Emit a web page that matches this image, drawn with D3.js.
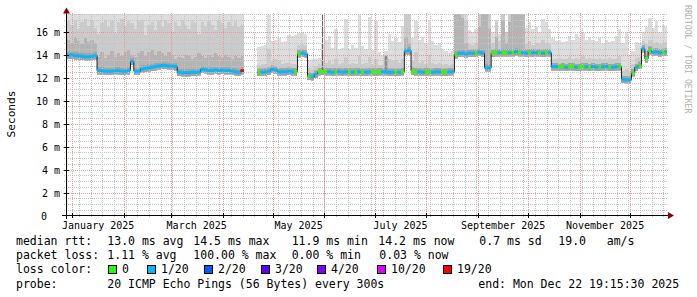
<!DOCTYPE html>
<html>
<head>
<meta charset="utf-8">
<script src="https://cdn.jsdelivr.net/npm/d3@7/dist/d3.min.js"></script>
<style>
  html, body { margin: 0; padding: 0; background: #ffffff; overflow: hidden; }
  svg { display: block; }
  text { font-family: "DejaVu Sans Mono", "Liberation Mono", monospace; white-space: pre; fill: #000; }
</style>
</head>
<body>
<svg id="chart" width="697" height="297"></svg>
<script>
// ---------------- DATA ----------------
const startDate = "2024-12-28T20:00:00Z";
const endDate = "2025-12-22T19:15:00Z";
const binDays = 2;

// median rtt per 2-day bin (ms)
const median = [
  13.95,13.95,13.9,13.9,13.85,13.8,13.8,13.85,13.9,12.6,
  12.58,12.55,12.55,12.55,12.58,12.58,12.55,12.55,12.6,13.4,
  12.55,12.55,12.75,12.8,12.85,12.9,12.95,13.0,13.05,13.05,
  13.0,13.0,12.95,12.45,12.42,12.42,12.42,12.45,12.45,12.48,
  12.7,12.65,12.6,12.6,12.65,12.6,12.62,12.6,12.6,12.55,
  12.5,12.45,12.6,null,null,null,null,12.45,12.45,12.5,
  12.55,12.7,12.65,12.5,12.5,12.5,12.55,12.5,12.5,14.05,
  14.1,14.05,12.1,12.05,12.3,12.5,12.55,12.5,12.5,12.45,
  12.5,12.5,12.45,12.5,12.5,12.45,12.5,12.5,12.45,12.45,
  12.5,12.5,12.45,12.5,12.5,12.5,12.45,12.45,12.45,12.45,
  12.5,14.3,14.35,12.55,12.5,12.5,12.45,12.5,12.5,12.45,
  12.5,12.5,12.45,12.45,12.5,12.5,14.0,14.1,14.1,14.05,
  14.1,14.1,14.1,14.2,14.1,12.85,12.85,14.1,14.15,14.15,
  14.15,14.15,14.15,14.15,14.25,14.15,14.15,14.1,14.15,14.15,
  14.15,14.15,14.1,14.15,14.15,12.95,12.95,12.9,12.95,12.9,
  12.93,12.95,12.9,12.9,12.95,12.93,12.9,12.95,12.9,12.9,
  12.93,12.95,12.9,12.9,12.93,12.95,11.85,11.8,11.8,12.4,
  12.9,13.05,14.5,13.65,14.35,14.2,14.25,14.15,14.2,14.25
];

// lost pings (of 20) per bin
const loss = [
  1,1,1,1,1,1,1,1,1,1,
  1,1,1,1,1,1,1,1,1,1,
  1,1,1,1,1,1,1,1,1,1,
  1,1,1,1,1,1,1,1,1,1,
  1,1,1,1,1,1,1,1,1,1,
  1,1,19,null,null,null,null,0,1,1,
  1,1,1,1,1,1,1,1,0,0,
  1,1,0,1,1,0,0,0,1,1,
  0,1,1,1,0,1,0,1,0,1,
  1,0,0,0,1,1,1,1,0,1,
  0,1,1,0,0,1,1,0,0,1,
  1,1,0,0,1,1,0,1,1,1,
  1,1,0,1,1,1,1,0,0,1,
  0,0,1,0,1,0,1,1,0,1,
  1,0,1,0,1,1,1,0,0,1,
  0,0,1,0,0,1,0,1,1,0,
  1,1,0,1,1,0,1,1,1,0,
  1,0,1,0,0,1,1,1,0,1
];

// smoke: outer (max) ping per bin (ms)
const smokeTop = [
  18,18,18,18,18,18,18,18,18,18,
  18,18,18,18,18,18,18,18,18,18,
  18,18,18,18,18,18,18,18,18,18,
  18,18,18,18,18,18,18,18,18,18,
  18,18,18,18,18,18,18,18,18,18,
  18,18,18,null,null,null,null,14.65,14.7,14.8,
  17.4,15.2,15.3,15.4,15.1,15.2,15.7,15.6,15.7,15.9,
  16.0,15.8,13.5,13.6,13.6,13.7,14.9,15.3,15.6,14.6,
  16.2,14.5,14.6,17.1,14.5,14.8,14.6,17.4,14.7,14.5,
  17.3,14.4,16.9,14.2,14.0,14.3,15.8,15.2,15.4,15.1,
  16.5,18,17.5,15.4,16.9,15.3,15.5,15.0,17.0,15.2,
  14.8,15.0,14.5,14.3,14.1,14.3,18,18,18,18,
  16.1,16.0,16.2,18,18,18,18,16.0,17.0,15.8,
  16.2,15.9,18,18,18,18,18,16.3,16.8,16.2,
  16.4,16.0,17.1,16.8,16.2,15.4,15.2,15.3,15.1,15.2,
  15.6,15.3,15.8,15.4,15.9,15.3,15.5,15.3,15.2,15.4,
  15.0,15.3,15.1,15.2,15.6,16.2,15.0,16.0,14.0,14.3,
  15.1,15.0,16.0,16.4,17.2,16.3,16.9,16.0,16.6,16.4
];

// smoke: middle layer top per bin (ms)
const smokeMid = [
  16.9,16.6,17.0,16.2,16.8,17.1,16.5,16.9,16.3,15.8,
  16.7,17.0,16.4,16.9,15.9,16.8,17.1,16.5,16.9,16.7,
  16.2,16.9,17.0,15.7,16.6,16.8,16.1,16.9,16.4,17.0,
  16.7,15.9,16.8,16.5,17.0,16.6,16.2,16.9,16.7,15.8,
  16.8,16.4,16.9,16.6,16.1,16.9,16.7,16.3,16.8,16.5,
  16.9,16.4,16.6,null,null,null,null,13.1,13.15,13.2,
  14.5,13.4,13.6,13.5,13.2,13.3,13.3,13.2,13.2,14.8,
  14.9,14.8,12.8,12.75,13.0,13.2,13.5,13.3,13.4,13.2,
  13.6,13.2,13.3,13.8,13.2,13.3,13.2,13.9,13.2,13.3,
  13.8,13.2,13.6,13.1,13.1,14.0,13.6,13.4,13.5,13.3,
  13.6,18,17.5,13.4,14.2,13.3,13.4,13.2,14.0,13.3,
  13.2,13.3,13.1,13.2,13.1,13.2,18,18,18,17,
  14.9,14.8,15.0,18,18,18,18,15.0,16.8,15.2,
  17.5,16.0,18,18,18,18,18,14.9,15.2,14.8,
  15.0,14.9,15.3,15.0,14.9,13.6,13.6,13.7,13.6,13.6,
  13.8,13.6,13.7,13.6,13.9,13.6,13.7,13.6,13.6,13.7,
  13.6,13.6,13.7,13.6,13.6,13.9,12.6,12.7,12.6,13.2,
  13.7,13.8,15.2,14.9,15.3,15.0,15.1,14.9,15.0,15.1
];

// smoke: inner (dense) layer top per bin (ms)
const smokeInner = [
  15.3,15.0,15.5,15.2,14.9,15.4,15.1,15.3,15.0,13.8,
  14.2,13.7,14.0,14.3,13.8,14.1,13.9,14.2,14.4,14.0,
  13.8,14.1,14.3,13.9,14.2,14.4,14.0,14.3,14.1,13.9,
  14.2,14.0,13.6,13.8,13.7,14.0,13.9,13.6,13.8,14.1,
  13.9,13.7,14.0,13.8,14.1,13.9,13.7,14.0,13.8,13.6,
  13.9,13.7,13.9,null,null,null,null,12.8,12.8,12.85,
  12.9,13.05,13.0,12.85,12.85,12.85,12.9,12.85,12.85,14.4,
  14.45,14.4,12.45,12.4,12.65,12.85,12.9,12.85,12.85,12.8,
  12.85,12.85,12.8,12.85,12.85,12.8,12.85,12.85,12.8,12.8,
  12.85,12.85,12.8,12.85,12.85,13.8,12.8,12.8,12.8,12.8,
  12.85,15.5,15.0,12.9,12.85,12.85,12.8,12.85,12.85,12.8,
  12.85,12.85,12.8,12.8,12.85,12.85,18,18,17.2,15.0,
  14.45,14.45,14.45,16.5,18,18,16.2,14.5,15.5,14.5,
  17.0,15.0,16.8,18,18,18,18,14.5,14.5,14.45,
  14.5,14.5,14.45,14.5,14.5,13.25,13.25,13.2,13.25,13.2,
  13.25,13.25,13.2,13.2,13.25,13.25,13.2,13.25,13.2,13.2,
  13.25,13.25,13.2,13.2,13.25,13.25,12.15,12.1,12.1,12.7,
  13.2,13.4,14.8,14.3,14.7,14.55,14.6,14.5,14.55,14.6
];

// isolated thin smoke spikes
const spikeDates = ["2025-05-30T12:00:00Z", "2025-07-07T12:00:00Z"];
const spikeTops = [17.6, 13.85];
const spikeBase = [12.5, 12.5];

const yTickValues = [0, 2, 4, 6, 8, 10, 12, 14, 16];
const yTickLabels = ["0", "2 m", "4 m", "6 m", "8 m", "10 m", "12 m", "14 m", "16 m"];
const xTickMonths = ["2025-01-01", "2025-03-01", "2025-05-01", "2025-07-01", "2025-09-01", "2025-11-01"];
const xTickLabels = ["January 2025", "March 2025", "May 2025", "July 2025", "September 2025", "November 2025"];

const lossLevels = [0, 1, 2, 3, 4, 10, 19];
const lossLabels = ["0", "1/20", "2/20", "3/20", "4/20", "10/20", "19/20"];
const lossColors = ["#26ff00", "#00b8ff", "#0059ff", "#5e00ff", "#7e00ff", "#dd00ff", "#ff0000"];

const rttLabel = "median rtt:";
const rttStats = ["13.0 ms avg", "14.5 ms max", "11.9 ms min", "14.2 ms now", "0.7 ms sd", "19.0   am/s"];
const lossLabel = "packet loss:";
const lossStats = ["1.11 % avg", "100.00 % max", "0.00 % min", "0.03 % now"];
const colorLabel = "loss color:";
const probeLabel = "probe:";
const probeText = "20 ICMP Echo Pings (56 Bytes) every 300s";
const endText = "end: Mon Dec 22 19:15:30 2025";
const yTitle = "Seconds";
const credit = "RRDTOOL / TOBI OETIKER";

// ---------------- DRAW ----------------
const svg = d3.select("#chart");
const t0 = new Date(startDate), t1 = new Date(endDate);
const x = d3.scaleUtc().domain([t0, t1]).range([67, 666.5]);
const y = d3.scaleLinear().domain([0, 16]).range([215.5, 31.5]);
const plotL = 67, plotR = 667, plotT = 14, plotB = 215;

svg.append("rect").attr("width", 697).attr("height", 297).attr("fill", "#ffffff");
svg.append("defs").append("clipPath").attr("id", "plotclip")
  .append("rect").attr("x", plotL).attr("y", plotT).attr("width", plotR - plotL).attr("height", plotB - plotT);

const bins = median.map((m, i) => ({
  t0: d3.utcDay.offset(t0, i * binDays),
  t1: d3.utcDay.offset(t0, (i + 1) * binDays),
  m: m, loss: loss[i], top: smokeTop[i], mid: smokeMid[i], inner: smokeInner[i]
}));
function stepPts(key) {
  const pts = [];
  bins.forEach(b => {
    pts.push({ t: b.t0, m: b.m, v: b[key] });
    pts.push({ t: b.t1, m: b.m, v: b[key] });
  });
  return pts;
}

// smoke
const gSmoke = svg.append("g").attr("clip-path", "url(#plotclip)").attr("shape-rendering", "crispEdges");
[["top", "#dddddd"], ["mid", "#cbcbcb"], ["inner", "#b4b4b4"]].forEach(([key, col]) => {
  const area = d3.area()
    .defined(d => d.v != null && d.m != null)
    .x(d => x(d.t))
    .y0(d => y(d.m - 0.35))
    .y1(d => y(Math.min(d.v, 17.8)));
  gSmoke.append("path").datum(stepPts(key)).attr("d", area).attr("fill", col);
});
const core = d3.area().defined(d => d.m != null)
  .x(d => x(d.t)).y0(d => y(d.m - 0.3)).y1(d => y(d.m + 0.3));
gSmoke.append("path").datum(stepPts("m")).attr("d", core).attr("fill", "#a3a3a3");

// spikes
spikeDates.forEach((d, i) => {
  const xx = Math.round(x(new Date(d))) + 0.5;
  gSmoke.append("line").attr("x1", xx).attr("x2", xx)
    .attr("y1", y(spikeBase[i])).attr("y2", y(spikeTops[i]))
    .attr("stroke", i === 0 ? "#606060" : "#8c8c8c").attr("stroke-width", i === 0 ? 1.3 : 2);
});

// grid
const gGrid = svg.append("g").attr("shape-rendering", "crispEdges").attr("fill", "none");
for (let k = 1; k <= 35; k++) {
  const v = k * 0.5;
  if (v % 2 === 0) continue;
  const yy = Math.round(y(v)) + 0.5;
  if (yy < plotT) continue;
  gGrid.append("line").attr("x1", 64).attr("x2", 668).attr("y1", yy).attr("y2", yy)
    .attr("stroke", "#c4c4c4").attr("stroke-dasharray", "1,1");
}
const weeks = d3.utcSunday.range(t0, t1);
weeks.forEach(w => {
  const xx = Math.round(x(w)) + 0.5;
  if (xx < plotL + 1) return;
  gGrid.append("line").attr("x1", xx).attr("x2", xx).attr("y1", 217).attr("y2", 13)
    .attr("stroke", "#c4c4c4").attr("stroke-dasharray", "1,1");
});
yTickValues.slice(1).forEach(v => {
  const yy = Math.round(y(v)) + 0.5;
  gGrid.append("line").attr("x1", 63).attr("x2", 668).attr("y1", yy).attr("y2", yy)
    .attr("stroke", "#e39a9a").attr("stroke-dasharray", "1,1");
});
const months = d3.utcMonth.range(d3.utcMonth.ceil(t0), t1);
months.forEach(mo => {
  const xx = Math.round(x(mo)) + 0.5;
  gGrid.append("line").attr("x1", xx).attr("x2", xx).attr("y1", 218).attr("y2", 13)
    .attr("stroke", "#e39a9a").attr("stroke-dasharray", "1,1");
});

// median line
const gLine = svg.append("g").attr("clip-path", "url(#plotclip)");
gLine.append("path").datum(stepPts("m"))
  .attr("d", d3.line().defined(d => d.m != null).x(d => x(d.t)).y(d => y(d.m)))
  .attr("fill", "none").attr("stroke", "#202020").attr("stroke-width", 1);
lossLevels.forEach((L, k) => {
  const segs = bins.filter(b => b.m != null && b.loss === L);
  if (!segs.length) return;
  const p = d3.path();
  segs.forEach(b => { p.moveTo(x(b.t0), y(b.m)); p.lineTo(x(b.t1), y(b.m)); });
  gLine.append("path").attr("d", p.toString()).attr("fill", "none")
    .attr("stroke", lossColors[k]).attr("stroke-width", 3);
});

// axes
const gAx = svg.append("g").attr("shape-rendering", "crispEdges");
gAx.append("line").attr("x1", 62).attr("x2", 669).attr("y1", 215.5).attr("y2", 215.5).attr("stroke", "#000");
gAx.append("line").attr("x1", 66.5).attr("x2", 66.5).attr("y1", 219).attr("y2", 12).attr("stroke", "#000");
months.forEach(mo => {
  const xx = Math.round(x(mo)) + 0.5;
  gAx.append("line").attr("x1", xx).attr("x2", xx).attr("y1", 213).attr("y2", 218).attr("stroke", "#000");
});
yTickValues.slice(1).forEach(v => {
  const yy = Math.round(y(v)) + 0.5;
  gAx.append("line").attr("x1", 64).attr("x2", 69).attr("y1", yy).attr("y2", yy).attr("stroke", "#000");
});
svg.append("path").attr("d", "M66.5,7.5 L63,13.5 L70,13.5 Z").attr("fill", "#8b0000");
svg.append("path").attr("d", "M674,215.5 L668,212 L668,219 Z").attr("fill", "#8b0000");

// axis labels
yTickValues.forEach((v, i) => {
  svg.append("text").attr("x", v === 0 ? 47 : 60).attr("y", Math.round(y(v)) + 3.5)
    .attr("text-anchor", "end").attr("font-size", "10px").text(yTickLabels[i]);
});
xTickMonths.forEach((m, i) => {
  const d = new Date(m + "T00:00:00Z");
  const cx = (x(d) + x(d3.utcMonth.offset(d, 1))) / 2;
  svg.append("text").attr("x", cx).attr("y", 228.5).attr("text-anchor", "middle")
    .attr("font-size", "10px").text(xTickLabels[i]);
});
svg.append("text").attr("transform", "translate(15,114) rotate(-90)")
  .attr("text-anchor", "middle").attr("font-size", "11.2px").text(yTitle);
svg.append("text").attr("transform", "translate(685,5) rotate(90)")
  .attr("font-size", "8.2px").style("fill", "#b0b0b0").text(credit);

// legend
const fs = "11.5px";
const rows = [245, 259.2, 273.4, 287.6];
svg.append("text").attr("x", 16).attr("y", rows[0]).attr("font-size", fs).text(rttLabel);
[107.3, 193.3, 291.7, 378.3, 479.3, 558.3].forEach((xx, i) => {
  svg.append("text").attr("x", xx).attr("y", rows[0]).attr("font-size", fs).text(rttStats[i]);
});
svg.append("text").attr("x", 16).attr("y", rows[1]).attr("font-size", fs).text(lossLabel);
[107.3, 193.3, 291.7, 379.3].forEach((xx, i) => {
  svg.append("text").attr("x", xx).attr("y", rows[1]).attr("font-size", fs).text(lossStats[i]);
});
svg.append("text").attr("x", 16).attr("y", rows[2]).attr("font-size", fs).text(colorLabel);
[108, 147, 204, 261, 317, 377, 443].forEach((xx, i) => {
  svg.append("rect").attr("x", xx + 0.5).attr("y", 265.5).attr("width", 8).attr("height", 8)
    .attr("fill", lossColors[i]).attr("stroke", "#000").attr("stroke-width", 1)
    .attr("shape-rendering", "crispEdges");
  svg.append("text").attr("x", xx + 14).attr("y", rows[2]).attr("font-size", fs).text(lossLabels[i]);
});
svg.append("text").attr("x", 16).attr("y", rows[3]).attr("font-size", fs).text(probeLabel);
svg.append("text").attr("x", 107.3).attr("y", rows[3]).attr("font-size", fs).text(probeText);
svg.append("text").attr("x", 478.3).attr("y", rows[3]).attr("font-size", fs).text(endText);
</script>
</body>
</html>
